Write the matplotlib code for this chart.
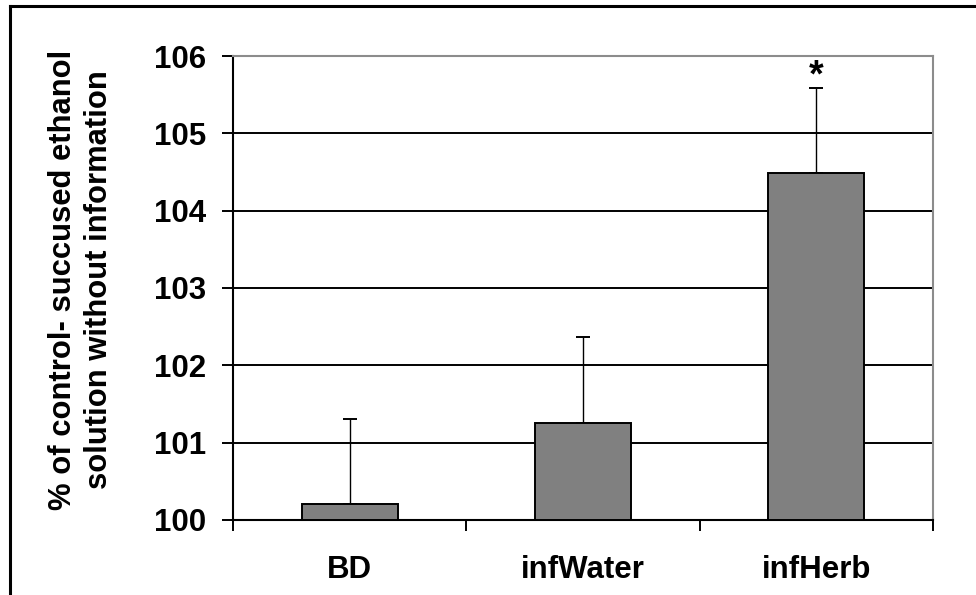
import numpy as np
import matplotlib
matplotlib.use('Agg')
import matplotlib.pyplot as plt
from matplotlib.lines import Line2D

# data
groups = ['BD', 'infWater', 'infHerb']
means = [100.21, 101.25, 104.49]
errs = [1.09, 1.11, 1.09]
signif = ['', '', '*']
yticks = [100, 101, 102, 103, 104, 105, 106]
ylab = '% of control- succused ethanol\nsolution without information'

plt.rcParams['font.family'] = ['Liberation Sans', 'DejaVu Sans']
plt.rcParams['font.weight'] = 'bold'

fig = plt.figure(figsize=(9.76, 5.95), dpi=100)
ax = fig.add_axes([233/976, 1 - 520/595, 700/976, 464/595])

x = np.arange(len(groups))
m = np.array(means)
ax.bar(x, m - 100, bottom=100, width=0.41, color='#808080',
       edgecolor='black', linewidth=1.4, zorder=3)
ax.errorbar(x, m, yerr=[np.zeros(len(errs)), errs], fmt='none',
            ecolor='black', elinewidth=1.0, capsize=5, capthick=1.4, zorder=2)

for xi, mi, ei, s in zip(x, m, errs, signif):
    if s:
        ax.text(xi, mi + ei + 0.03, s, ha='center', va='baseline',
                fontsize=27, fontweight='bold')

ax.set_ylim(100, 106)
ax.set_xlim(-0.5, len(groups) - 0.5)
ax.set_yticks(yticks)
ax.set_yticklabels([str(t) for t in yticks], fontsize=22.5, fontweight='bold')
ax.set_xticks(x)
ax.set_xticklabels(groups, fontsize=22.5, fontweight='bold')
ax.set_xticks(np.arange(len(groups) + 1) - 0.5, minor=True)

ax.tick_params(axis='y', direction='out', length=8, width=1.4, pad=11)
ax.tick_params(axis='x', which='major', length=0, pad=25)
ax.tick_params(axis='x', which='minor', direction='out', length=8, width=1.4)

ax.yaxis.grid(True, color='black', linewidth=1.4)
ax.set_axisbelow(True)

for side in ['left', 'bottom']:
    ax.spines[side].set_color('black')
    ax.spines[side].set_linewidth(1.5)
for side in ['top', 'right']:
    ax.spines[side].set_color('#8c8c8c')
    ax.spines[side].set_linewidth(1.5)

fig.text(81/976, 1 - 280/595, ylab, rotation=90, ha='center', va='center',
         multialignment='center', fontsize=22.3, fontweight='bold',
         linespacing=1.3)

# outer frame (left and top edges visible)
fig.add_artist(Line2D([10/976, 10/976], [0, 1 - 6/595], color='black',
                      linewidth=2.2, transform=fig.transFigure))
fig.add_artist(Line2D([10/976, 1], [1 - 6/595, 1 - 6/595], color='black',
                      linewidth=2.2, transform=fig.transFigure))

fig.savefig('out.png', dpi=100)
